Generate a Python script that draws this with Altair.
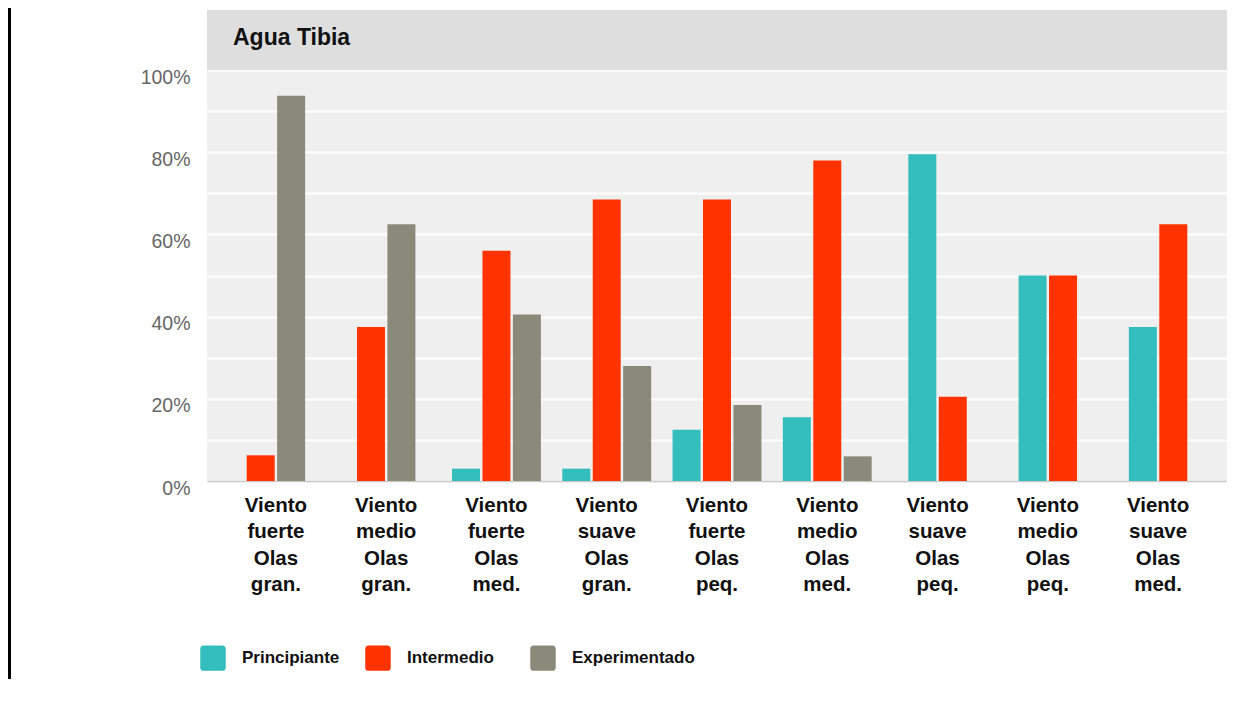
import altair as alt
import pandas as pd

categories = [
    "Viento fuerte Olas gran.",
    "Viento medio Olas gran.",
    "Viento fuerte Olas med.",
    "Viento suave Olas gran.",
    "Viento fuerte Olas peq.",
    "Viento medio Olas med.",
    "Viento suave Olas peq.",
    "Viento medio Olas peq.",
    "Viento suave Olas med.",
]
series = ["Principiante", "Intermedio", "Experimentado"]
principiante = [0, 0, 3, 3, 12.5, 15.5, 79.5, 50, 37.5]
intermedio = [6.25, 37.5, 56, 68.5, 68.5, 78, 20.5, 50, 62.5]
experimentado = [93.75, 62.5, 40.5, 28, 18.5, 6, 0, 0, 0]
colors = ["#33BDBD", "#FF3300", "#8A8A7A"]
title_text = "Agua Tibia"

rows = []
for i, cat in enumerate(categories):
    vals = [principiante[i], intermedio[i], experimentado[i]]
    present = [(s, v) for s, v in zip(series, vals) if v > 0]
    n = len(present)
    for k, (s, v) in enumerate(present):
        slot = 2 * k - (n - 1)
        rows.append({"cat": cat, "serie": s, "valor": v, "slot": str(slot)})
df = pd.DataFrame(rows)

W, H = 1020, 471
YMAX = 114.6

rounded = ("M -0.75,-1 H 0.75 A 0.25 0.25 0 0 1 1,-0.75 V 0.75 A 0.25 0.25 0 0 1 0.75,1 "
           "H -0.75 A 0.25 0.25 0 0 1 -1,0.75 V -0.75 A 0.25 0.25 0 0 1 -0.75,-1 Z")

bars = alt.Chart(df).mark_bar(width=28).encode(
    x=alt.X("cat:N", sort=categories,
            scale=alt.Scale(paddingInner=0.31, paddingOuter=0.28),
            axis=alt.Axis(title=None, labelAngle=0,
                          labelExpr="split(datum.label, ' ')",
                          labelFont="Liberation Sans", labelFontWeight="bold",
                          labelFontSize=20.5, labelColor="#111111",
                          labelLineHeight=26.5, labelPadding=14,
                          ticks=False, domainColor="#c8c8c8", domainWidth=1.5,
                          grid=False)),
    xOffset=alt.XOffset("slot:N", scale=alt.Scale(domain=["-2", "-1", "0", "1", "2"],
                                                   paddingInner=0, paddingOuter=0)),
    y=alt.Y("valor:Q", scale=alt.Scale(domain=[0, YMAX], nice=False, zero=True),
            axis=alt.Axis(title=None, values=list(range(0, 101, 10)),
                          labelExpr="datum.value % 20 == 0 ? datum.value + '%' : ''",
                          labelFont="Liberation Sans", labelFontSize=19.5,
                          labelColor="#666666", labelPadding=17, labelOffset=7,
                          labelOverlap=False, labelFlush=False, labelBound=False,
                          ticks=False, domain=False,
                          grid=True, gridColor="#ffffff", gridWidth=2)),
    color=alt.Color("serie:N", sort=series,
                    scale=alt.Scale(domain=series, range=colors),
                    legend=alt.Legend(title=None, orient="none", direction="horizontal",
                                      legendX=-7, legendY=635,
                                      symbolType=rounded, symbolSize=650,
                                      symbolStrokeWidth=0, symbolOpacity=1,
                                      labelFont="Liberation Sans", labelFontWeight="bold",
                                      labelFontSize=17, labelColor="#111111",
                                      labelOffset=16, columnPadding=0,
                                      gridAlign="all")),
)

band = alt.Chart(pd.DataFrame({"top": [YMAX], "bottom": [100]})).mark_rect(
    color="#dedede").encode(
    x=alt.value(0), x2=alt.value(W),
    y=alt.Y("top:Q"), y2=alt.Y2("bottom:Q"),
)

title = alt.Chart(pd.DataFrame({"t": [title_text]})).mark_text(
    align="left", baseline="middle", font="Liberation Sans", fontWeight="bold",
    fontSize=23, color="#111111").encode(
    text="t:N", x=alt.value(26), y=alt.value(28),
)

frame = alt.Chart(pd.DataFrame({"a": [0]})).mark_rule(color="#000000", strokeWidth=3).encode(
    x=alt.value(-197.5), y=alt.value(-2), y2=alt.value(H + 200),
)

chart = alt.layer(band, bars, title, frame).properties(
    width=W, height=H,
    autosize=alt.AutoSizeParams(type="none"),
    padding={"left": 199, "top": 2, "right": 0, "bottom": 198},
    background="#ffffff",
).configure_view(fill="#efefef", stroke=None)

chart.save("out.html", embed_options={"renderer": "svg", "actions": False})
